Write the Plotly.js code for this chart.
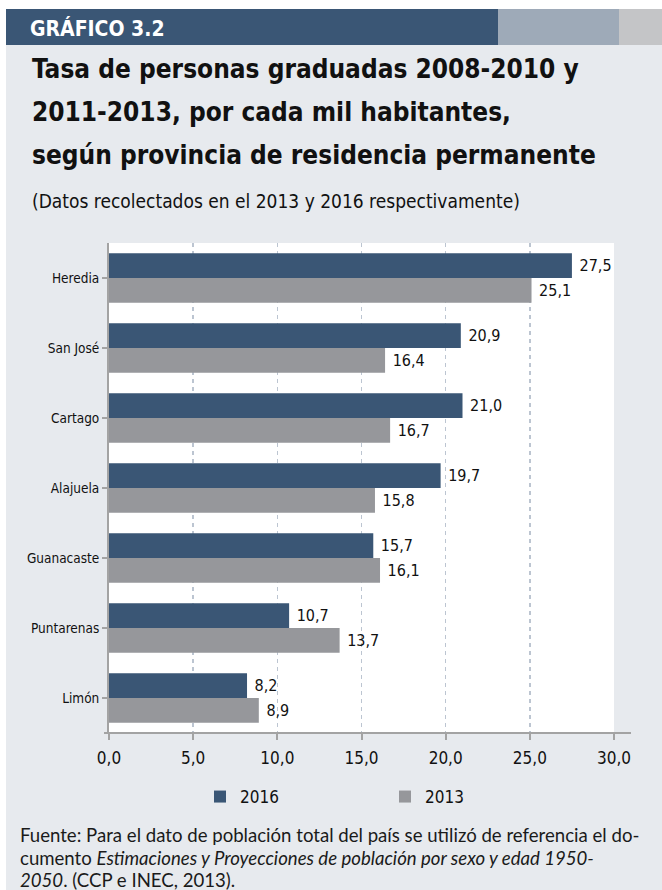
<!DOCTYPE html>
<html>
<head>
<meta charset="utf-8">
<script src="https://cdn.plot.ly/plotly-3.0.1.min.js"></script>
<style>
  html, body { margin: 0; padding: 0; background: #ffffff; }
  #chart { width: 662px; height: 890px; }
  svg text { font-stretch: condensed; }
</style>
</head>
<body>
<div id="chart"></div>
<script>
// ---- data ----
const provinces = ["Heredia", "San José", "Cartago", "Alajuela", "Guanacaste", "Puntarenas", "Limón"];
const values2016 = [27.5, 20.9, 21.0, 19.7, 15.7, 10.7, 8.2];
const values2013 = [25.1, 16.4, 16.7, 15.8, 16.1, 13.7, 8.9];
const seriesNames = ["2016", "2013"];
const xTicks = [0, 5, 10, 15, 20, 25, 30];

// ---- geometry helpers (pixel -> paper) ----
const W = 662, H = 890;
const M = { l: 109, r: 48, t: 243, b: 157 };
const PW = W - M.l - M.r, PH = H - M.t - M.b;
const px = x => (x - M.l) / PW;
const py = y => (H - M.b - y) / PH;

const NARROW = "DejaVu Sans, sans-serif";
const DARK = "#3a5675";
const GREY = "#96979b";

const traces = [
  {
    type: "bar", orientation: "h", name: seriesNames[0],
    y: provinces, x: values2016,
    marker: { color: DARK },
    texttemplate: " %{x:.1f}", textposition: "outside", cliponaxis: false,
    textfont: { family: NARROW, size: 16, color: "#111" },
    hoverinfo: "none"
  },
  {
    type: "bar", orientation: "h", name: seriesNames[1],
    y: provinces, x: values2013,
    marker: { color: GREY },
    texttemplate: " %{x:.1f}", textposition: "outside", cliponaxis: false,
    textfont: { family: NARROW, size: 16, color: "#111" },
    hoverinfo: "none"
  }
];

const shapes = [
  { type: "rect", xref: "paper", yref: "paper", layer: "below",
    x0: px(6), x1: px(662), y0: py(45), y1: py(890), fillcolor: "#e7eaee", line: { width: 0 } },
  { type: "rect", xref: "paper", yref: "paper", layer: "below",
    x0: 0, x1: 1, y0: 0, y1: 1, fillcolor: "#ffffff", line: { width: 0 } },
  { type: "rect", xref: "paper", yref: "paper", layer: "above",
    x0: px(6), x1: px(498), y0: py(45), y1: py(9), fillcolor: "#3a5675", line: { width: 0 } },
  { type: "rect", xref: "paper", yref: "paper", layer: "above",
    x0: px(498), x1: px(619), y0: py(45), y1: py(9), fillcolor: "#9eaab8", line: { width: 0 } },
  { type: "rect", xref: "paper", yref: "paper", layer: "above",
    x0: px(619), x1: px(662), y0: py(45), y1: py(9), fillcolor: "#c4c5c7", line: { width: 0 } },
  { type: "line", xref: "paper", yref: "paper", layer: "above",
    x0: px(104), x1: px(631), y0: 0, y1: 0, line: { color: "#a3a3a3", width: 2 } }
];

const ann = (text, x, y, size, opts) => Object.assign({
  text: text, xref: "paper", yref: "paper", x: px(x), y: py(y),
  xanchor: "left", yanchor: "middle", align: "left", showarrow: false,
  font: { family: NARROW, size: size, color: "#111" }
}, opts || {});

const FOOT = "Lato, Open Sans, sans-serif";
const footFont = { family: FOOT, size: 18.6, color: "#1a1a1a" };
const annotations = [
  ann("<b>GRÁFICO 3.2</b>", 28, 28, 21, { font: { family: NARROW, size: 21, color: "#ffffff" } }),
  ann("<b>Tasa de personas graduadas 2008-2010 y</b>", 30, 69, 26),
  ann("<b>2011-2013, por cada mil habitantes,</b>", 30, 112, 26),
  ann("<b>según provincia de residencia permanente</b>", 30, 155, 26),
  ann("(Datos recolectados en el 2013 y 2016 respectivamente)", 30, 201, 19),
  ann("Fuente: Para el dato de población total del país se utilizó de referencia el do-", 18, 835, 18.6, { font: footFont }),
  ann("cumento <i>Estimaciones y Proyecciones de población por sexo y edad 1950-</i>", 18, 858, 18.6, { font: footFont }),
  ann("<i>2050</i>. (CCP e INEC, 2013).", 18, 880, 18.6, { font: footFont })
];

const layout = {
  width: W, height: H,
  margin: M,
  paper_bgcolor: "#ffffff",
  plot_bgcolor: "rgba(0,0,0,0)",
  separators: ",.",
  barmode: "group",
  bargap: 0.29,
  bargroupgap: 0,
  showlegend: true,
  legend: {
    orientation: "h", x: px(200), y: py(797), xanchor: "left", yanchor: "middle",
    bgcolor: "rgba(0,0,0,0)", font: { family: NARROW, size: 17, color: "#111" },
    entrywidth: 140, entrywidthmode: "pixels", itemwidth: 30
  },
  xaxis: {
    range: [0, 30], tickvals: xTicks, tickformat: ".1f",
    showgrid: true, gridcolor: "#bcc5d1", griddash: "4px,4px", gridwidth: 1.5,
    zeroline: false, showline: false,
    ticks: "outside", ticklen: 6, tickwidth: 2, tickcolor: "#a3a3a3",
    ticklabelstandoff: 4,
    tickfont: { family: NARROW, size: 17, color: "#111" },
    fixedrange: true
  },
  yaxis: {
    autorange: "reversed", type: "category",
    showline: true, linecolor: "#a3a3a3", linewidth: 2,
    ticks: "outside", ticklen: 5, tickwidth: 2, tickcolor: "#a3a3a3",
    tickfont: { family: NARROW, size: 13.5, color: "#111" },
    showgrid: false, zeroline: false, fixedrange: true
  },
  shapes: shapes,
  annotations: annotations
};

Plotly.newPlot("chart", traces, layout, { displayModeBar: false, staticPlot: true });
</script>
</body>
</html>
